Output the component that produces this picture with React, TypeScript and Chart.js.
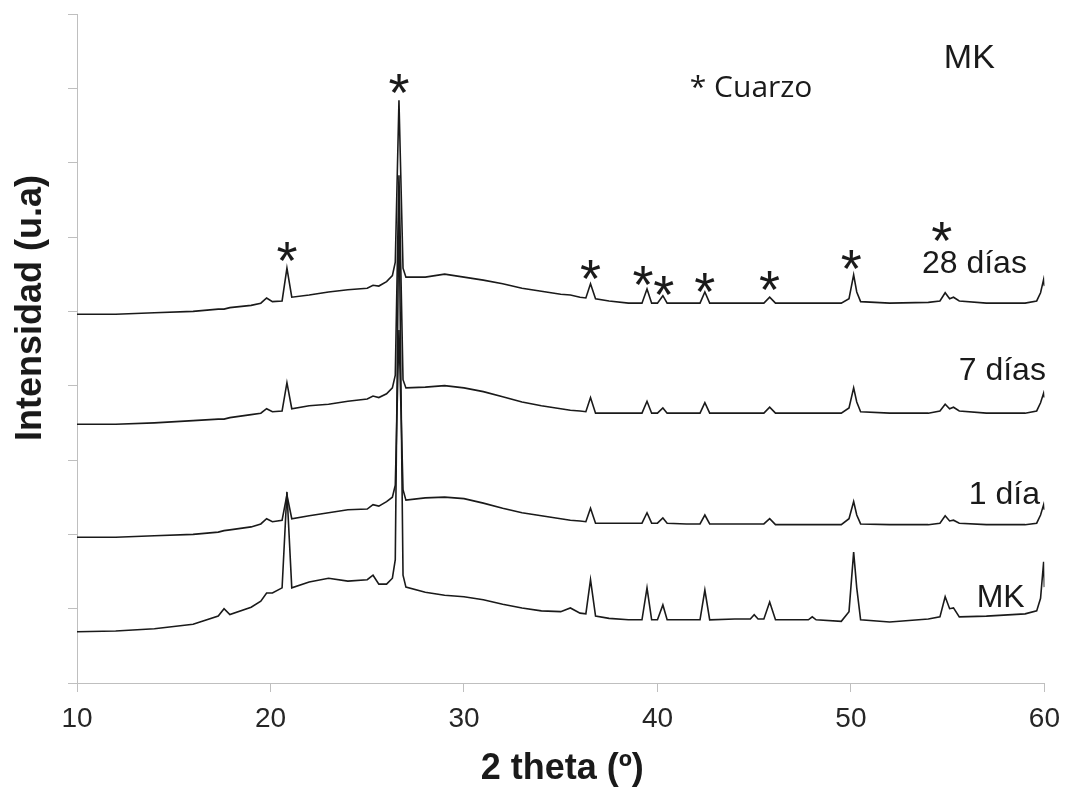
import React, { useEffect, useRef } from "react";
import { Chart, registerables } from "chart.js";

Chart.register(...registerables);

// 2θ positions (degrees) shared by all patterns
const twoTheta = [
  10, 12, 14, 16, 17.3, 17.6, 17.9, 19, 19.5, 19.8, 20.1, 20.6, 20.85, 21.1, 22, 23, 24, 25, 25.3, 25.6,
  26, 26.3, 26.45, 26.64, 26.85, 27, 28, 29, 30, 31, 32, 33, 34, 35, 35.5, 36, 36.3, 36.54, 36.8, 37.5,
  38.5, 39.2, 39.46, 39.7, 40.0, 40.28, 40.5, 41.5, 42.2, 42.45, 42.7, 44, 44.8, 45.0, 45.2, 45.5, 45.8, 46.1, 47.5, 47.8, 48, 48.2,
  49.5, 49.9, 50.14, 50.3, 50.5, 52, 54, 54.6, 54.87, 55.1, 55.3, 55.6, 57, 59, 59.6, 59.8, 59.96, 60,
];

// Intensity (u.a., stacked offsets included)
const mk = [
  69, 70, 73, 79, 90, 100, 92, 102, 110, 121, 121, 128, 257, 128, 136, 141, 137, 139, 145, 133,
  133, 141, 166, 650, 145, 129, 122, 118, 116, 112, 106, 101, 97, 96, 101, 94, 93, 139, 90, 87,
  85, 85, 128, 85, 85, 105, 85, 85, 85, 125, 85, 86, 86, 92, 86, 86, 109, 85, 85, 85, 89, 85,
  83, 96, 176, 128, 85, 82, 86, 89, 116, 100, 101, 89, 90, 93, 97, 114, 163, 129,
];

const dia1 = [
  196, 196, 198, 200, 203, 205, 206, 210, 214, 221, 217, 219, 253, 221, 225, 229, 233, 234, 240, 238,
  244, 250, 266, 475, 260, 246, 249, 250, 248, 242, 235, 229, 225, 221, 219, 218, 217, 235, 215, 215,
  215, 215, 229, 215, 215, 222, 215, 214, 214, 226, 214, 214, 214, 214, 214, 214, 221, 213, 213, 213, 213, 213,
  213, 221, 244, 226, 214, 213, 213, 215, 225, 218, 219, 215, 213, 213, 215, 226, 240, 233,
];

const dias7 = [
  348, 348, 350, 353, 355, 355, 357, 361, 363, 369, 365, 366, 404, 369, 373, 375, 379, 382, 386, 384,
  389, 397, 414, 683, 408, 397, 398, 400, 397, 392, 385, 378, 373, 369, 367, 366, 365, 384, 363, 363,
  363, 363, 379, 363, 363, 370, 363, 363, 363, 377, 363, 363, 363, 363, 363, 363, 371, 363, 363, 363, 363, 363,
  363, 370, 397, 378, 365, 363, 363, 366, 375, 369, 371, 366, 363, 363, 366, 377, 390, 384,
];

const dias28 = [
  496, 496, 498, 500, 503, 503, 505, 508, 511, 518, 513, 514, 558, 519, 522, 526, 529, 531, 535, 534,
  540, 548, 566, 784, 558, 546, 546, 550, 546, 542, 537, 531, 527, 523, 522, 519, 518, 537, 517, 514,
  511, 511, 530, 511, 511, 521, 511, 511, 511, 526, 511, 511, 511, 511, 511, 511, 519, 511, 511, 511, 511, 511,
  511, 517, 549, 526, 513, 511, 512, 514, 525, 517, 519, 514, 511, 511, 514, 525, 543, 534,
];

const seriesNames = ["MK", "1 día", "7 días", "28 días"];
const seriesValues = [mk, dia1, dias7, dias28];

const xMin = 10;
const xMax = 60;
const xStep = 10;
const yMin = 0;
const yMax = 900;
const yStep = 100;

const xTitle = "2 theta (º)";
const yTitle = "Intensidad (u.a)";
const quartzLegend = "* Cuarzo";
const materialLabel = "MK";
const quartzMark = "*";

// annotation anchors in data coordinates (2θ, intensity)
const LABEL_ANCHORS: [number, number][] = [
  [56.5, 102],
  [56.09, 241],
  [55.57, 408],
  [53.67, 552],
];
const STAR_ANCHORS: [number, number][] = [
  [20.85, 580],
  [26.64, 807],
  [36.54, 556],
  [39.25, 548],
  [40.33, 535],
  [42.44, 539],
  [45.79, 542],
  [50.01, 570],
  [54.7, 607],
];

const SANS = '"Liberation Sans", Arial, sans-serif';
const TEXT = "#1a1a1a";
const AXIS = "#bfbfbf";

const annotPlugin = {
  id: "xrdAnnotations",
  afterDraw(chart: any) {
    const { ctx, scales, chartArea } = chart;
    const X = (v: number) => scales.x.getPixelForValue(v);
    const Y = (v: number) => scales.y.getPixelForValue(v);
    ctx.save();
    ctx.fillStyle = TEXT;
    ctx.textBaseline = "alphabetic";

    ctx.textAlign = "left";
    ctx.font = `32px ${SANS}`;
    seriesNames.forEach((n, i) => {
      ctx.fillText(n, X(LABEL_ANCHORS[i][0]), Y(LABEL_ANCHORS[i][1]));
    });

    ctx.font = `34px ${SANS}`;
    ctx.fillText(materialLabel, X(54.8), Y(827));

    ctx.font = `30px "Open Sans", "Noto Sans", sans-serif`;
    ctx.fillText(quartzLegend, X(41.67), Y(788));

    ctx.font = `54px ${SANS}`;
    ctx.textAlign = "center";
    const m = ctx.measureText(quartzMark);
    const off = (m.actualBoundingBoxAscent - m.actualBoundingBoxDescent) / 2;
    STAR_ANCHORS.forEach(([sx, sy]) => {
      ctx.fillText(quartzMark, X(sx), Y(sy) + off);
    });

    ctx.font = `bold 36px ${SANS}`;
    ctx.textAlign = "center";
    ctx.fillText(xTitle, (chartArea.left + chartArea.right) / 2 + 1.5, 779);

    ctx.save();
    ctx.translate(41, 308);
    ctx.rotate(-Math.PI / 2);
    ctx.fillText(yTitle, 0, 0);
    ctx.restore();

    ctx.restore();
  },
};

export default function App() {
  const ref = useRef<HTMLCanvasElement>(null);

  useEffect(() => {
    const canvas = ref.current;
    if (!canvas) return;
    const datasets = seriesValues.map((ys, i) => ({
      label: seriesNames[i],
      data: twoTheta.map((x, j) => ({ x, y: ys[j] })),
      borderColor: TEXT,
      borderWidth: 1.6,
      pointRadius: 0,
      tension: 0,
      fill: false,
    }));
    const chart = new Chart(canvas, {
      type: "line",
      data: { datasets },
      options: {
        responsive: false,
        animation: false,
        devicePixelRatio: 1,
        layout: { padding: { top: 14, right: 22, left: 0, bottom: 0 } },
        plugins: { legend: { display: false }, tooltip: { enabled: false }, title: { display: false } },
        scales: {
          x: {
            type: "linear",
            min: xMin,
            max: xMax,
            ticks: { stepSize: xStep, font: { family: SANS, size: 28 }, color: "#262626", padding: 10 },
            grid: { drawOnChartArea: false, drawTicks: true, tickLength: 9, color: AXIS },
            border: { display: true, color: AXIS, width: 1 },
            afterFit: (s: any) => {
              s.height = 104;
            },
          },
          y: {
            type: "linear",
            min: yMin,
            max: yMax,
            ticks: { stepSize: yStep, display: false },
            grid: { drawOnChartArea: false, drawTicks: true, tickLength: 9, color: AXIS },
            border: { display: true, color: AXIS, width: 1 },
            afterFit: (s: any) => {
              s.width = 77;
            },
          },
        },
      },
      plugins: [annotPlugin],
    });
    return () => chart.destroy();
  }, []);

  return (
    <div style={{ position: "fixed", left: 0, top: 0, width: 1070, height: 787, background: "#fff" }}>
      <canvas ref={ref} width={1070} height={787} style={{ display: "block" }} />
    </div>
  );
}
